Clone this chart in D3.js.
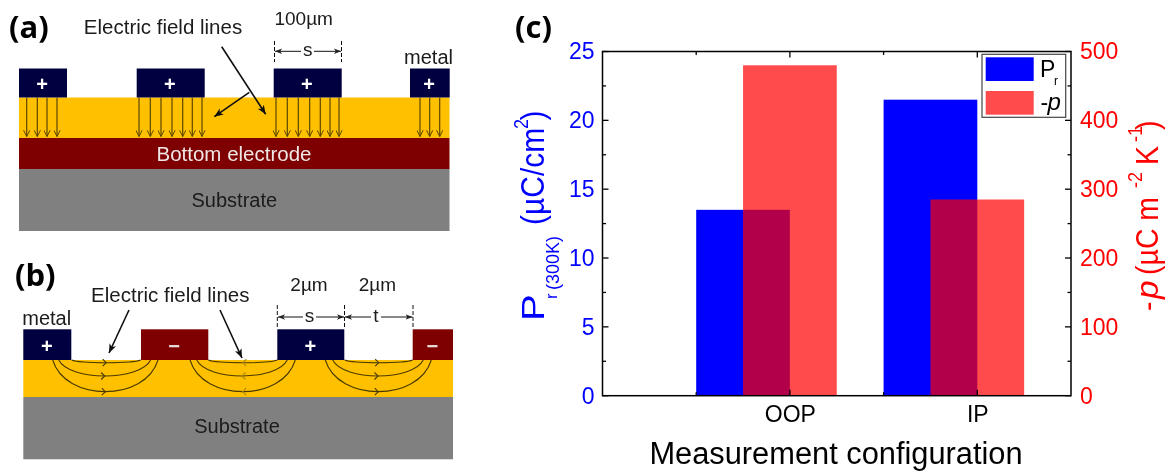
<!DOCTYPE html>
<html><head><meta charset="utf-8">
<script src="https://cdn.jsdelivr.net/npm/d3@7/dist/d3.min.js"></script>
<style>
html,body{margin:0;padding:0;background:#fff;}
svg{display:block;}
text{font-family:"Liberation Sans",Arial,sans-serif;}
.panel{font-family:"Open Sans",sans-serif;font-weight:700;font-size:31px;fill:#000;}
</style></head><body>
<svg id="c" width="1170" height="472"></svg>
<script>
// ---- chart data ----
const categories = ["OOP", "IP"];
const categoryPos = [1, 2];
const pr = [13.5, 21.5];
const minusP = [480, 285];
const prTicks = [0, 5, 10, 15, 20, 25];
const pTicks = [0, 100, 200, 300, 400, 500];
const minorTicksLeft = [2.5, 7.5, 12.5, 17.5, 22.5];
const xTopTicks = [0.5, 1, 1.5, 2];
// ---- schematic data ----
const aElectrodes = [[19,67],[136.7,204.7],[273.7,341.7],[410,449.7]];
const aArrows = [26.7,37.3,47,57,139,150.3,161,172,182.7,192.3,202,276,287.3,298.3,309.7,320.3,330,339,420,429.7,439.7];
const bElectrodes = [[23.3,71.3,"+"],[141,208.3,"\u2212"],[277.3,344.3,"+"],[412.7,453,"\u2212"]];
const bArcs = [
  [71.7,140.7,362.7,1],[58.7,150.7,376,1],[52.7,158,391.7,1],
  [208.3,277.3,362.7,-1],[196.7,287.3,376,-1],[190,295.3,391.7,-1],
  [344.7,412.7,362.7,1],[332.7,423.3,376,1],[325.3,431.3,391.7,1]];

const svg = d3.select("#c");
const defs = svg.append("defs");
defs.append("filter").attr("id","soft").attr("x",0).attr("y",0).attr("width",1).attr("height",1)
  .append("feGaussianBlur").attr("stdDeviation",0.4);
function marker(id,color,size){
  defs.append("marker").attr("id",id).attr("viewBox","0 0 10 10").attr("refX",10).attr("refY",5)
    .attr("markerWidth",size).attr("markerHeight",size).attr("markerUnits","userSpaceOnUse").attr("orient","auto-start-reverse")
    .append("path").attr("d",id.startsWith("open")?"M1,0.5L10,5L1,9.5":"M0,1L10,5L0,9L2.5,5Z")
    .attr("fill",id.startsWith("open")?"none":color).attr("stroke",id.startsWith("open")?color:"none").attr("stroke-width",1.4);
}
marker("blk","#111",9); marker("dim","#222",7); marker("open","#5a4600",7);
const root = svg.append("g").attr("filter","url(#soft)");
root.append("rect").attr("width",1170).attr("height",472).attr("fill","#fff");
const NAVY="#00003f", MAROON="#7f0000", GOLD="#ffc000", GRAY="#808080";
const g = root.append("g");
function rect(x0,y0,x1,y1,f){g.append("rect").attr("x",x0).attr("y",y0).attr("width",x1-x0).attr("height",y1-y0).attr("fill",f);}
function line(x0,y0,x1,y1,o={}){const l=g.append("line").attr("x1",x0).attr("y1",y0).attr("x2",x1).attr("y2",y1)
  .attr("stroke",o.c||"#111").attr("stroke-width",o.w||1.3);
  if(o.dash)l.attr("stroke-dasharray",o.dash); if(o.end)l.attr("marker-end",`url(#${o.end})`); if(o.start)l.attr("marker-start",`url(#${o.start})`); return l;}
function text(x,y,s,o={}){return g.append("text").attr("x",x).attr("y",y).attr("text-anchor",o.a||"middle")
  .attr("font-size",o.s||20).attr("fill",o.f||"#1a1a1a").text(s);}

// Panel a
rect(19,97.5,449.5,138,GOLD); rect(19,138,449.5,169,MAROON); rect(19,169,449.5,231,GRAY);
aElectrodes.forEach(e=>{rect(e[0],68.5,e[1],97.5,NAVY);
  text((e[0]+e[1])/2-0.8,91,"+",{f:"#fff",s:20}).attr("font-weight",700);});
aArrows.forEach(x=>line(x,97.5,x,136.5,{c:"#5a4600",w:1.2,end:"open"}));
text(234,160.7,"Bottom electrode",{f:"#efe6e6",s:20.5});
text(234.3,207.3,"Substrate",{s:20});
text(163,34,"Electric field lines",{s:20.5});
text(303.7,25,"100\u00b5m",{s:19});
text(428.5,64.3,"metal",{s:20});
line(221.7,46.7,265.7,114.3,{w:1.6,end:"blk"});
line(249.3,92.3,214.3,116.7,{w:1.6,end:"blk"});
[274.5,341.5].forEach(x=>line(x,41,x,62,{w:1,dash:"4 2"}));
line(275,51.3,301,51.3,{w:1,start:"dim"}); line(314,51.3,341,51.3,{w:1,end:"dim"});
text(307.7,55.5,"s",{s:19});
g.append("text").attr("class","panel").attr("x",9).attr("y",38).text("(a)");

// Panel b
rect(23.3,360,453,397,GOLD); rect(23.3,397,453,459.3,GRAY);
bElectrodes.forEach(e=>{rect(e[0],329.3,e[1],360,e[2]=="+"?NAVY:MAROON);
  text((e[0]+e[1])/2-0.5,353,e[2],{f:e[2]=="+"?"#fff":"#e8dcdc",s:20}).attr("font-weight",700);});
bArcs.forEach(a=>{
  const [x0,x1,yb,dir]=a, ytop=360;
  g.append("path").attr("d",`M${x0},${ytop}C${x0+(x1-x0)*0.12},${yb+(yb-ytop)*0.33} ${x1-(x1-x0)*0.12},${yb+(yb-ytop)*0.33} ${x1},${ytop}`)
   .attr("fill","none").attr("stroke","#4a3a00").attr("stroke-width",1.1);
  const mx=(x0+x1)/2;
  const cc=dir>0?"#4a3a00":"#a98a10";
  g.append("path").attr("d",`M${mx-dir*3.5},${yb-3.5}L${mx},${yb}L${mx-dir*3.5},${yb+3.5}`).attr("fill","none").attr("stroke",cc).attr("stroke-width",1.1);
});
text(237,433.3,"Substrate",{s:20});
text(170.3,301.7,"Electric field lines",{s:20.5});
text(46.7,325,"metal",{s:20});
text(309,290.7,"2\u00b5m",{s:19}); text(377.3,290.7,"2\u00b5m",{s:19});
line(129,310,109,353,{w:1.6,end:"blk"});
line(220,310,242,358,{w:1.6,end:"blk"});
[277.3,344.5,413].forEach(x=>line(x,305,x,328,{w:1,dash:"4 2"}));
line(278,317,303,317,{w:1,start:"dim"}); line(316,317,344,317,{w:1,end:"dim"});
line(345,317,371,317,{w:1,start:"dim"}); line(381,317,412.5,317,{w:1,end:"dim"});
text(309.5,321.5,"s",{s:19}); text(376,321.5,"t",{s:19});
g.append("text").attr("class","panel").attr("x",15).attr("y",286).text("(b)");

// Panel c
const L=602.5,R=1071,T=51.5,B=395.7;
const x=d3.scaleLinear().domain([0,2.5]).range([L,R]);
const y1=d3.scaleLinear().domain([0,25]).range([B,T]);
const y2=d3.scaleLinear().domain([0,500]).range([B,T]);
const c=root.append("g");
c.selectAll(".b1").data(categoryPos).join("rect").attr("x",d=>x(d-0.5)).attr("width",d=>x(d)-x(d-0.5))
 .attr("y",(d,i)=>y1(pr[i])).attr("height",(d,i)=>B-y1(pr[i])).attr("fill","#0000ff");
c.selectAll(".b2").data(categoryPos).join("rect").attr("x",d=>x(d-0.25)).attr("width",d=>x(d+0.25)-x(d-0.25))
 .attr("y",(d,i)=>y2(minusP[i])).attr("height",(d,i)=>B-y2(minusP[i])).attr("fill","#ff0000").attr("fill-opacity",0.7);

const left=c.append("g").attr("transform",`translate(${L},0)`).call(d3.axisLeft(y1).tickValues(prTicks).tickSize(0).tickPadding(8));
const right=c.append("g").attr("transform",`translate(${R},0)`).call(d3.axisRight(y2).tickValues(pTicks).tickSize(0).tickPadding(9));
const bottom=c.append("g").attr("transform",`translate(0,${B})`).call(d3.axisBottom(x).tickValues(categoryPos).tickFormat((d,i)=>categories[i]).tickSize(0).tickPadding(10));
[left,right,bottom].forEach(a=>{a.select(".domain").remove();a.selectAll("text").attr("font-family","Liberation Sans").attr("font-size",23);});
left.selectAll("text").attr("fill","#0000ff"); right.selectAll("text").attr("fill","#ff0000"); bottom.selectAll("text").attr("fill","#000");
// frame & ticks
c.append("rect").attr("x",L).attr("y",T).attr("width",R-L).attr("height",B-T).attr("fill","none").attr("stroke","#000").attr("stroke-width",1.5);
const tk=(x0,y0,x1,y1_)=>c.append("line").attr("x1",x0).attr("y1",y0).attr("x2",x1).attr("y2",y1_).attr("stroke","#000").attr("stroke-width",1.3);
prTicks.forEach(v=>{tk(L,y1(v),L+6,y1(v));tk(R,y1(v),R-6,y1(v));});
minorTicksLeft.forEach(v=>{tk(L,y1(v),L+3.5,y1(v));tk(R,y1(v),R-3.5,y1(v));});
xTopTicks.forEach(v=>{const s=Number.isInteger(v)?6:3.5;tk(x(v),T,x(v),T+s);tk(x(v),B,x(v),B-s);});
// legend
c.append("rect").attr("x",982).attr("y",54.3).attr("width",83.7).attr("height",63).attr("fill","#fff").attr("stroke","#444").attr("stroke-width",1.2);
c.append("rect").attr("x",985.7).attr("y",57.3).attr("width",48).attr("height",23.7).attr("fill","#0000ff");
c.append("rect").attr("x",985.7).attr("y",91).attr("width",48).attr("height",23.7).attr("fill","#ff0000").attr("fill-opacity",0.7);
c.append("text").attr("x",1040).attr("y",77.3).attr("font-size",23).attr("fill","#000").text("P");
c.append("text").attr("x",1054).attr("y",85).attr("font-size",12).attr("fill","#000").text("r");
c.append("text").attr("x",1040.5).attr("y",110).attr("font-size",23).attr("fill","#000").text("-");
c.append("text").attr("x",1047.5).attr("y",110).attr("font-size",24).attr("font-style","italic").attr("fill","#000").text("p");
// titles
c.append("text").attr("x",836).attr("y",464).attr("text-anchor","middle").attr("font-size",30.8).attr("fill","#000").text("Measurement configuration");
function rot(xp,yp,s,size,fill,sx,sy,italic){
  const t=c.append("text").attr("transform",`translate(${xp},${yp}) rotate(-90) scale(${sx||1},${sy||1})`)
    .attr("font-size",size).attr("fill",fill).text(s);
  if(italic)t.attr("font-style","italic"); return t;}
const BL="#0000ff", RD="#ff0000";
rot(544,321,"P",31,BL,1.3,1);
rot(557,299,"r",17,BL);
rot(559,290,"(300K)",18,BL);
rot(544,225,"(\u00b5C/cm",30,BL,1,1.1);
rot(528,129,"2",18,BL,1,1.1);
rot(544,120.5,")",30,BL,1,1.1);
rot(1158,311,"-",28.5,RD,1,1.1);
rot(1158,299,"p",29,RD,1.15,1.05,true);
rot(1158,275,"(\u00b5C m",28.5,RD,1,1.1);
rot(1142,188,"-2",18,RD,1,1.1);
rot(1158,165,"K",28.5,RD,1,1.1);
rot(1142,142,"-1",18,RD,1,1.1);
rot(1158,130,")",28.5,RD,1,1.1);
c.append("text").attr("class","panel").attr("x",515).attr("y",38).text("(c)");
</script>
</body></html>
